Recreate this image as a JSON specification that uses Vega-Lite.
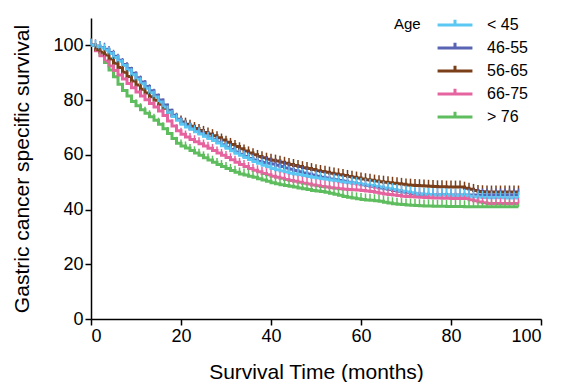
{
"$schema": "https://vega.github.io/schema/vega-lite/v6.json",
"width": 450, "height": 301,
"autosize": {"type": "none"},
"padding": {"left": 91, "top": 18, "right": 21, "bottom": 63},
"background": "white",
"config": {
  "font": "Liberation Sans",
  "view": {"stroke": null},
  "axis": {"grid": false, "domainColor": "black", "domainWidth": 1.5, "tickColor": "black", "tickWidth": 1.5, "tickSize": 6, "labelFontSize": 18, "labelColor": "black", "labelPadding": 2, "titleFontSize": 21, "titleFontWeight": "normal", "titleColor": "black"}
},
"data": {"values": [
{"t":0,"< 45":100,"46-55":100,"56-65":100,"66-75":100,"> 76":100},
{"t":1,"< 45":99.6,"46-55":99.8,"56-65":98.5,"66-75":98,"> 76":98.5},
{"t":2,"< 45":99,"46-55":99.2,"56-65":97.5,"66-75":96.2,"> 76":96.5},
{"t":3,"< 45":98.2,"46-55":98.6,"56-65":96.5,"66-75":94.3,"> 76":93.7},
{"t":4,"< 45":97,"46-55":97.4,"56-65":95,"66-75":92.5,"> 76":91},
{"t":5,"< 45":95.6,"46-55":96,"56-65":93.5,"66-75":90.8,"> 76":88.5},
{"t":6,"< 45":94.2,"46-55":94.6,"56-65":91.9,"66-75":89.2,"> 76":85.8},
{"t":7,"< 45":92.6,"46-55":93,"56-65":90.2,"66-75":87.7,"> 76":83.5},
{"t":8,"< 45":91,"46-55":91.5,"56-65":88.6,"66-75":86.1,"> 76":81.5},
{"t":9,"< 45":89.3,"46-55":89.8,"56-65":87,"66-75":84.5,"> 76":79.5},
{"t":10,"< 45":87.6,"46-55":88.2,"56-65":85.5,"66-75":83,"> 76":77.9},
{"t":11,"< 45":86,"46-55":86.6,"56-65":84,"66-75":81.5,"> 76":76.5},
{"t":12,"< 45":84.3,"46-55":85,"56-65":82.6,"66-75":80.1,"> 76":75.2},
{"t":13,"< 45":82.7,"46-55":83.4,"56-65":81.2,"66-75":78.8,"> 76":73.9},
{"t":14,"< 45":81.1,"46-55":81.8,"56-65":79.9,"66-75":77.5,"> 76":72.6},
{"t":15,"< 45":79.3,"46-55":80,"56-65":78.5,"66-75":76,"> 76":71.2},
{"t":16,"< 45":77.5,"46-55":78.2,"56-65":77,"66-75":74.4,"> 76":69.5},
{"t":17,"< 45":75.6,"46-55":76.3,"56-65":75.6,"66-75":72.4,"> 76":67.8},
{"t":18,"< 45":74,"46-55":74.5,"56-65":74.3,"66-75":70.5,"> 76":66},
{"t":19,"< 45":72.6,"46-55":72.9,"56-65":73,"66-75":68.8,"> 76":64.2},
{"t":20,"< 45":71.2,"46-55":71.5,"56-65":72,"66-75":67.5,"> 76":63.2},
{"t":21,"< 45":70.2,"46-55":70.5,"56-65":71.2,"66-75":66.5,"> 76":62.5},
{"t":22,"< 45":69.3,"46-55":69.5,"56-65":70.4,"66-75":65.6,"> 76":61.6},
{"t":23,"< 45":68.4,"46-55":68.6,"56-65":69.6,"66-75":64.8,"> 76":60.7},
{"t":24,"< 45":67.6,"46-55":67.8,"56-65":68.9,"66-75":64,"> 76":59.8},
{"t":25,"< 45":66.8,"46-55":67,"56-65":68.2,"66-75":63.2,"> 76":58.9},
{"t":26,"< 45":66,"46-55":66.2,"56-65":67.6,"66-75":62.4,"> 76":58.1},
{"t":27,"< 45":65.2,"46-55":65.5,"56-65":67,"66-75":61.6,"> 76":57.3},
{"t":28,"< 45":64.3,"46-55":64.6,"56-65":66.2,"66-75":60.7,"> 76":56.5},
{"t":29,"< 45":63.3,"46-55":63.7,"56-65":65.4,"66-75":59.8,"> 76":55.7},
{"t":30,"< 45":62.4,"46-55":62.8,"56-65":64.6,"66-75":59,"> 76":55},
{"t":31,"< 45":61.5,"46-55":61.9,"56-65":63.8,"66-75":58.2,"> 76":54.3},
{"t":32,"< 45":60.6,"46-55":61,"56-65":63,"66-75":57.3,"> 76":53.6},
{"t":33,"< 45":59.8,"46-55":60.2,"56-65":62.2,"66-75":56.5,"> 76":53},
{"t":34,"< 45":59,"46-55":59.4,"56-65":61.4,"66-75":55.7,"> 76":52.6},
{"t":35,"< 45":58.3,"46-55":58.7,"56-65":60.7,"66-75":55,"> 76":52.2},
{"t":36,"< 45":57.6,"46-55":58.1,"56-65":60,"66-75":54.4,"> 76":51.8},
{"t":37,"< 45":56.9,"46-55":57.6,"56-65":59.4,"66-75":53.8,"> 76":51.3},
{"t":38,"< 45":56.2,"46-55":57.2,"56-65":58.9,"66-75":53.2,"> 76":50.8},
{"t":39,"< 45":55.6,"46-55":56.9,"56-65":58.4,"66-75":52.7,"> 76":50.3},
{"t":40,"< 45":55,"46-55":56.6,"56-65":58,"66-75":52.2,"> 76":49.8},
{"t":41,"< 45":54.5,"46-55":56.2,"56-65":57.7,"66-75":51.8,"> 76":49.4},
{"t":42,"< 45":54.1,"46-55":55.7,"56-65":57.3,"66-75":51.4,"> 76":49.1},
{"t":43,"< 45":53.7,"46-55":55.2,"56-65":56.9,"66-75":51,"> 76":48.8},
{"t":44,"< 45":53.3,"46-55":54.7,"56-65":56.5,"66-75":50.6,"> 76":48.5},
{"t":45,"< 45":53,"46-55":54.3,"56-65":56.1,"66-75":50.3,"> 76":48.2},
{"t":46,"< 45":52.7,"46-55":53.8,"56-65":55.7,"66-75":50,"> 76":47.9},
{"t":47,"< 45":52.4,"46-55":53.4,"56-65":55.3,"66-75":49.6,"> 76":47.6},
{"t":48,"< 45":52.1,"46-55":53,"56-65":55,"66-75":49.3,"> 76":47.3},
{"t":49,"< 45":51.8,"46-55":52.6,"56-65":54.6,"66-75":49,"> 76":47},
{"t":50,"< 45":51.5,"46-55":52.2,"56-65":54.2,"66-75":48.7,"> 76":46.8},
{"t":51,"< 45":51.3,"46-55":51.8,"56-65":53.9,"66-75":48.4,"> 76":46.6},
{"t":52,"< 45":51.1,"46-55":51.5,"56-65":53.6,"66-75":48.2,"> 76":46.3},
{"t":53,"< 45":50.8,"46-55":51.2,"56-65":53.3,"66-75":48,"> 76":46},
{"t":54,"< 45":50.5,"46-55":50.9,"56-65":53,"66-75":47.8,"> 76":45.6},
{"t":55,"< 45":50.2,"46-55":50.6,"56-65":52.7,"66-75":47.6,"> 76":45.2},
{"t":56,"< 45":50,"46-55":50.3,"56-65":52.4,"66-75":47.4,"> 76":44.8},
{"t":57,"< 45":49.8,"46-55":50,"56-65":52.1,"66-75":47.3,"> 76":44.5},
{"t":58,"< 45":49.6,"46-55":49.7,"56-65":51.8,"66-75":47.2,"> 76":44.2},
{"t":59,"< 45":49.4,"46-55":49.4,"56-65":51.5,"66-75":47.1,"> 76":43.9},
{"t":60,"< 45":49.2,"46-55":49.1,"56-65":51.2,"66-75":47,"> 76":43.7},
{"t":61,"< 45":49,"46-55":48.8,"56-65":50.9,"66-75":46.8,"> 76":43.5},
{"t":62,"< 45":48.8,"46-55":48.5,"56-65":50.7,"66-75":46.6,"> 76":43.4},
{"t":63,"< 45":48.5,"46-55":48.2,"56-65":50.4,"66-75":46.3,"> 76":43.2},
{"t":64,"< 45":48.2,"46-55":47.9,"56-65":50.2,"66-75":46,"> 76":43},
{"t":65,"< 45":47.9,"46-55":47.6,"56-65":50,"66-75":45.7,"> 76":42.7},
{"t":66,"< 45":47.6,"46-55":47.3,"56-65":49.8,"66-75":45.5,"> 76":42.4},
{"t":67,"< 45":47.3,"46-55":47,"56-65":49.6,"66-75":45.3,"> 76":42.1},
{"t":68,"< 45":47,"46-55":46.7,"56-65":49.4,"66-75":45.1,"> 76":41.9},
{"t":69,"< 45":46.7,"46-55":46.4,"56-65":49.2,"66-75":44.9,"> 76":41.8},
{"t":70,"< 45":46.4,"46-55":46.1,"56-65":49,"66-75":44.8,"> 76":41.7},
{"t":71,"< 45":46.1,"46-55":45.9,"56-65":48.9,"66-75":44.7,"> 76":41.6},
{"t":72,"< 45":45.8,"46-55":45.7,"56-65":48.8,"66-75":44.6,"> 76":41.5},
{"t":73,"< 45":45.7,"46-55":45.6,"56-65":48.7,"66-75":44.5,"> 76":41.4},
{"t":74,"< 45":45.6,"46-55":45.5,"56-65":48.6,"66-75":44.4,"> 76":41.3},
{"t":75,"< 45":45.5,"46-55":45.5,"56-65":48.5,"66-75":44.3,"> 76":41.3},
{"t":76,"< 45":45.5,"46-55":45.4,"56-65":48.4,"66-75":44.2,"> 76":41.2},
{"t":77,"< 45":45.4,"46-55":45.4,"56-65":48.3,"66-75":44.2,"> 76":41.2},
{"t":78,"< 45":45.4,"46-55":45.4,"56-65":48.3,"66-75":44.1,"> 76":41.2},
{"t":79,"< 45":45.3,"46-55":45.3,"56-65":48.2,"66-75":44.1,"> 76":41.1},
{"t":80,"< 45":45.3,"46-55":45.3,"56-65":48.2,"66-75":44,"> 76":41.1},
{"t":81,"< 45":45.2,"46-55":45.3,"56-65":48.2,"66-75":44,"> 76":41.1},
{"t":82,"< 45":45.2,"46-55":45.3,"56-65":48.2,"66-75":44,"> 76":41.1},
{"t":83,"< 45":45.1,"46-55":45.3,"56-65":47.8,"66-75":44,"> 76":41},
{"t":84,"< 45":44.9,"46-55":45.3,"56-65":47.4,"66-75":43.6,"> 76":41},
{"t":85,"< 45":44.7,"46-55":45.3,"56-65":47,"66-75":43.2,"> 76":41},
{"t":86,"< 45":44.5,"46-55":45.3,"56-65":46.6,"66-75":42.8,"> 76":41},
{"t":87,"< 45":44.4,"46-55":45.3,"56-65":46.5,"66-75":42.5,"> 76":41},
{"t":88,"< 45":44.3,"46-55":45.3,"56-65":46.4,"66-75":42.2,"> 76":41},
{"t":89,"< 45":44.3,"46-55":45.3,"56-65":46.4,"66-75":42.2,"> 76":41},
{"t":90,"< 45":44.3,"46-55":45.3,"56-65":46.4,"66-75":42.2,"> 76":41},
{"t":91,"< 45":44.3,"46-55":45.3,"56-65":46.4,"66-75":42.2,"> 76":41},
{"t":92,"< 45":44.2,"46-55":45.3,"56-65":46.4,"66-75":42.2,"> 76":41},
{"t":93,"< 45":44.2,"46-55":45.3,"56-65":46.4,"66-75":42.2,"> 76":41},
{"t":94,"< 45":44.2,"46-55":45.3,"56-65":46.4,"66-75":42.2,"> 76":41},
{"t":95,"< 45":44.2,"46-55":45.3,"56-65":46.4,"66-75":42.2,"> 76":41}
]},
"transform": [{"fold": ["> 76", "66-75", "56-65", "46-55", "< 45"], "as": ["age", "surv"]}],
"encoding": {
  "x": {"field": "t", "type": "quantitative", "scale": {"domain": [0, 100], "nice": false}, "axis": {"values": [0, 20, 40, 60, 80, 100], "title": "Survival Time (months)", "titlePadding": 16}},
  "y": {"field": "surv", "type": "quantitative", "scale": {"domain": [0, 110], "nice": false}, "axis": {"values": [0, 20, 40, 60, 80, 100], "title": "Gastric cancer specific survival", "titlePadding": 20}},
  "color": {"field": "age", "type": "nominal",
    "scale": {"domain": ["< 45", "46-55", "56-65", "66-75", "> 76"], "range": ["#5BC8F4", "#5A64B4", "#7A3E18", "#E5649F", "#5EBD5E"]},
    "legend": {"title": "Age", "orient": "none", "legendX": 303, "legendY": -1, "padding": 0, "titleOrient": "left", "titleAnchor": "start", "titleFontSize": 15, "titleFontWeight": "normal", "titleColor": "black", "titlePadding": 26, "labelFontSize": 16, "labelColor": "black", "labelOffset": 24, "rowPadding": 3, "symbolType": "M-4,0H4M0,0V-1.2", "symbolSize": 76, "symbolStrokeWidth": 3, "symbolFillColor": "transparent"}
  }
},
"layer": [
  {"mark": {"type": "line", "interpolate": "step-after", "strokeWidth": 3}},
  {"mark": {"type": "point", "shape": "M0,0V-1", "size": 169, "strokeWidth": 1.5, "filled": false, "opacity": 1}}
]
}
